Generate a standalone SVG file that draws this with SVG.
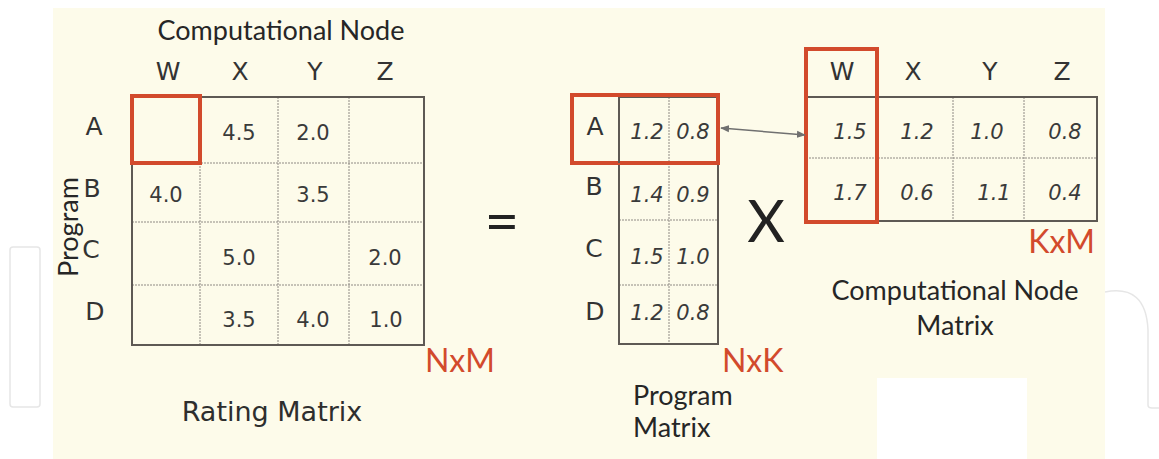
<svg xmlns="http://www.w3.org/2000/svg" width="1159" height="459" viewBox="0 0 1159 459">
<defs>
<style>
.bg{fill:#fdfbea}
.outer{fill:none;stroke:#5e5954;stroke-width:2}
.inner{fill:none;stroke:#8f8a84;stroke-width:1;stroke-dasharray:2 1}
.red{fill:none;stroke:#d24a2c;stroke-width:4}
.lbl{font-family:"DejaVu Sans",Verdana,sans-serif;font-size:25px;fill:#333;text-anchor:middle}
.val{font-family:"DejaVu Sans",Verdana,sans-serif;font-size:21px;fill:#3a3a3a;text-anchor:middle}
.ival{font-family:"DejaVu Sans",Verdana,sans-serif;font-size:21px;font-style:italic;fill:#3a3a3a;text-anchor:middle}
.title{font-family:Lato,"Open Sans",sans-serif;font-size:27px;fill:#262626}
.dim{font-family:Lato,"Open Sans",sans-serif;font-size:32px;fill:#d24a2c}
.big{font-family:Lato,"Open Sans",sans-serif;fill:#222;text-anchor:middle}
.wm{fill:none;stroke:#e6e6e6;stroke-width:1.5}
.conn{stroke:#707070;stroke-width:1.5;fill:none}
</style>
<marker id="ah" viewBox="0 0 10 10" refX="9" refY="5" markerWidth="9" markerHeight="9" orient="auto-start-reverse" markerUnits="userSpaceOnUse">
<path d="M0,1 L10,5 L0,9 z" fill="#707070"/>
</marker>
</defs>
<rect x="0" y="0" width="1159" height="459" fill="#ffffff"/>
<g id="watermark">
<rect class="wm" x="10" y="247" width="30" height="160" rx="3"/>
<path class="wm" d="M1105,292 Q1146,284 1148,330 L1148,405 Q1148,408 1152,408 L1159,408"/>
</g>
<rect class="bg" x="53" y="8" width="1052" height="451"/>
<rect x="877" y="378" width="150" height="81" fill="#ffffff"/>

<g id="rating-matrix">
<text class="title" x="281" y="40" text-anchor="middle">Computational Node</text>
<text class="lbl" x="168" y="80">W</text>
<text class="lbl" x="240" y="80">X</text>
<text class="lbl" x="315" y="80">Y</text>
<text class="lbl" x="385" y="80">Z</text>
<text class="lbl" x="94" y="135">A</text>
<text class="lbl" x="92" y="197">B</text>
<text class="lbl" x="91" y="258">C</text>
<text class="lbl" x="95" y="320">D</text>
<text class="title" transform="translate(78,227) rotate(-90)" text-anchor="middle">Program</text>
<path class="inner" d="M200,97 V345 M278,97 V345 M349,97 V345 M132,163 H424 M132,222 H424 M132,285 H424"/>
<rect class="outer" x="132" y="97" width="292" height="248"/>
<rect class="red" x="132" y="96" width="68" height="67"/>
<text class="val" x="239" y="140">4.5</text>
<text class="val" x="313" y="140">2.0</text>
<text class="val" x="166" y="202">4.0</text>
<text class="val" x="313" y="202">3.5</text>
<text class="val" x="239" y="265">5.0</text>
<text class="val" x="385" y="265">2.0</text>
<text class="val" x="239" y="327">3.5</text>
<text class="val" x="313" y="327">4.0</text>
<text class="val" x="386" y="327">1.0</text>
<text class="dim" x="425" y="372">NxM</text>
<text x="272" y="421" text-anchor="middle" font-family="'DejaVu Sans',Verdana,sans-serif" font-size="27" fill="#2e2e2e">Rating Matrix</text>
</g>

<g id="equals">
<text class="big" x="502" y="242" font-size="60">=</text>
</g>

<g id="program-matrix">
<path class="inner" d="M669,97 V344 M619,163 H718 M619,220 H718 M619,285 H718"/>
<rect class="outer" x="619" y="97" width="99" height="247"/>
<rect class="red" x="572" y="95" width="146" height="68"/>
<path d="M619,97 V163" stroke="#5e5954" stroke-width="2"/>
<text class="lbl" x="595" y="135">A</text>
<text class="lbl" x="594" y="195">B</text>
<text class="lbl" x="594" y="257">C</text>
<text class="lbl" x="595" y="320">D</text>
<text class="ival" x="647" y="139">1.2</text>
<text class="ival" x="693" y="139">0.8</text>
<text class="ival" x="647" y="202">1.4</text>
<text class="ival" x="693" y="202">0.9</text>
<text class="ival" x="647" y="264">1.5</text>
<text class="ival" x="693" y="264">1.0</text>
<text class="ival" x="647" y="320">1.2</text>
<text class="ival" x="693" y="320">0.8</text>
<text class="dim" x="722" y="372">NxK</text>
<text class="title" x="633" y="405">Program</text>
<text class="title" x="633" y="437">Matrix</text>
</g>

<g id="times">
<text class="big" x="766" y="242" font-size="58">X</text>
</g>

<g id="node-matrix">
<text class="lbl" x="842" y="80">W</text>
<text class="lbl" x="913" y="80">X</text>
<text class="lbl" x="990" y="80">Y</text>
<text class="lbl" x="1062" y="80">Z</text>
<path class="inner" d="M953,97 V221 M1024,97 V221 M806,158 H1097"/>
<rect class="outer" x="806" y="97" width="291" height="124"/>
<path d="M877,97 V221" stroke="#5e5954" stroke-width="2"/>
<rect class="red" x="806" y="49" width="71" height="173"/>
<text class="ival" x="850" y="139">1.5</text>
<text class="ival" x="917" y="139">1.2</text>
<text class="ival" x="987" y="139">1.0</text>
<text class="ival" x="1065" y="139">0.8</text>
<text class="ival" x="850" y="200">1.7</text>
<text class="ival" x="917" y="200">0.6</text>
<text class="ival" x="994" y="200">1.1</text>
<text class="ival" x="1065" y="200">0.4</text>
<text class="dim" x="1095" y="253" text-anchor="end">KxM</text>
<text class="title" x="955" y="300" text-anchor="middle">Computational Node</text>
<text class="title" x="955" y="335" text-anchor="middle">Matrix</text>
</g>

<g id="connectors">
<line class="conn" x1="721" y1="128" x2="805" y2="135" marker-start="url(#ah)" marker-end="url(#ah)"/>
</g>
</svg>
